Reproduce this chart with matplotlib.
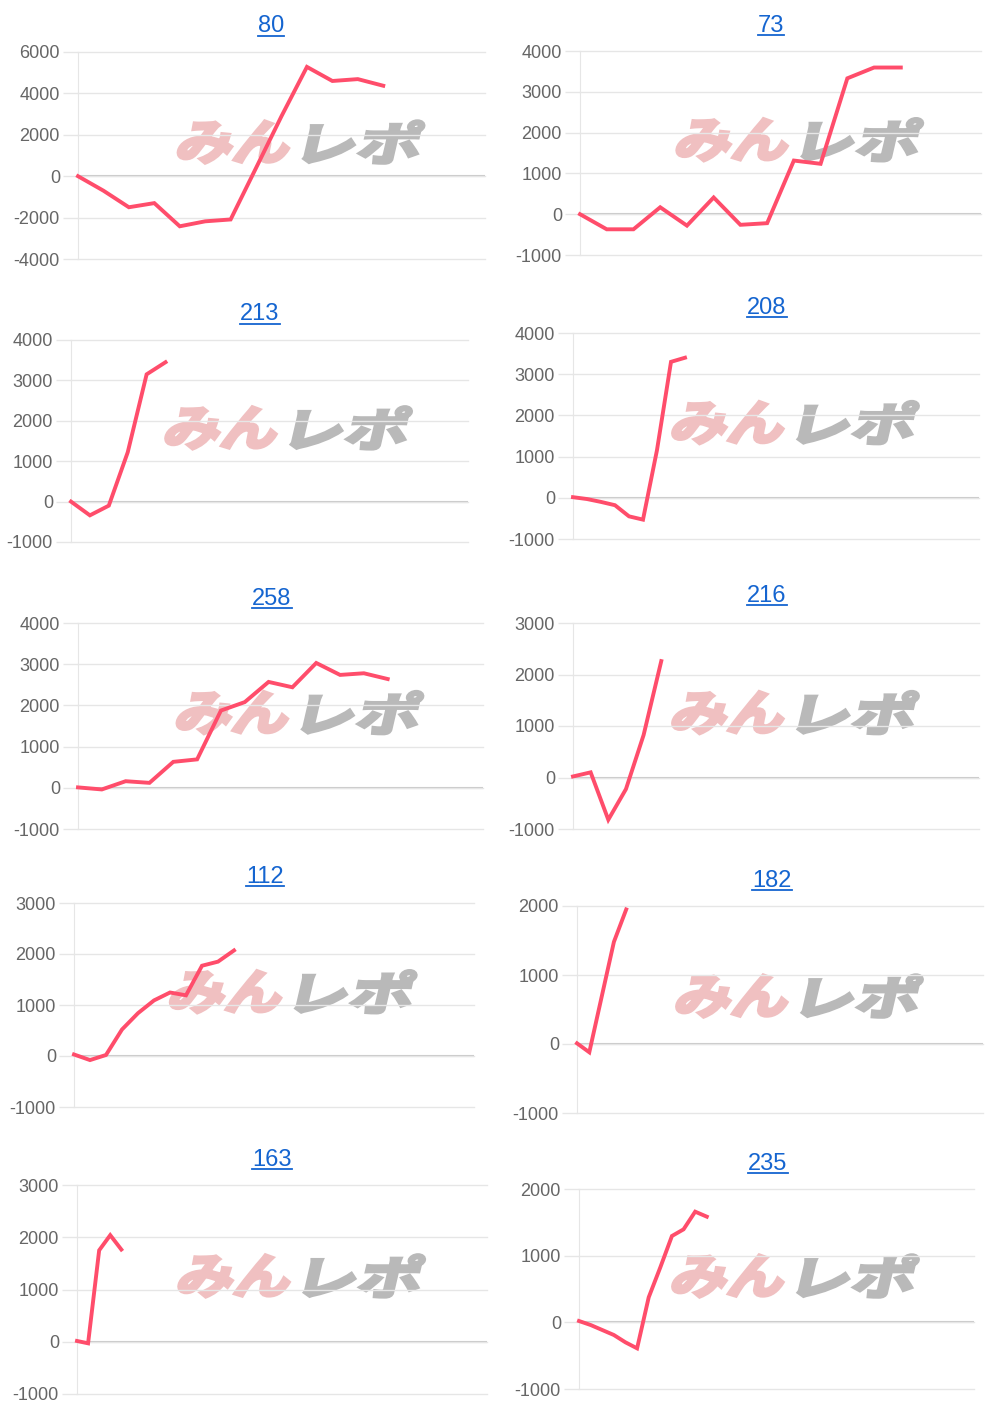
import matplotlib
matplotlib.use('Agg')
import matplotlib.pyplot as plt
from matplotlib.textpath import TextPath
from matplotlib.patches import PathPatch
from matplotlib.font_manager import FontProperties
from matplotlib.transforms import Affine2D, IdentityTransform
from matplotlib.lines import Line2D

W, H = 1000, 1415

# chart titles (machine numbers)
titles = ['80', '73', '213', '208', '258', '216', '112', '182', '163', '235']

# cumulative balance per chart
vals_80 = [0, -700, -1500, -1300, -2420, -2180, -2090, 400, 2900, 5280, 4600, 4690, 4370]
vals_73 = [0, -370, -370, 170, -280, 410, -260, -220, 1315, 1235, 3330, 3595, 3595]
vals_213 = [0, -340, -100, 1220, 3150, 3450]
vals_208 = [15, -30, -100, -180, -450, -530, 1160, 3300, 3400]
vals_258 = [10, -40, 160, 120, 630, 690, 1875, 2080, 2570, 2440, 3030, 2740, 2780, 2640]
vals_216 = [20, 100, -820, -225, 825, 2260]
vals_112 = [30, -80, 20, 520, 840, 1090, 1245, 1190, 1770, 1850, 2070]
vals_182 = [10, -120, 680, 1480, 1950]
vals_163 = [15, -30, 1750, 2040, 1765]
vals_235 = [20, -40, -115, -190, -300, -390, 375, 825, 1295, 1395, 1660, 1585]

series = [vals_80, vals_73, vals_213, vals_208, vals_258,
          vals_216, vals_112, vals_182, vals_163, vals_235]

# number of x intervals on each chart's category axis
n_slots = [16, 15, 21, 29, 17, 23, 25, 33, 37, 34]

# y axis (min, max, step)
y_ranges = [(-4000, 6000, 2000), (-1000, 4000, 1000), (-1000, 4000, 1000),
            (-1000, 4000, 1000), (-1000, 4000, 1000), (-1000, 3000, 1000),
            (-1000, 3000, 1000), (-1000, 2000, 1000), (-1000, 3000, 1000),
            (-1000, 2000, 1000)]

# layout in pixels: axes (left, right, top, bottom) and title centre
boxes = [(78, 485, 52, 259), (580, 981, 51, 255),
         (71, 468, 340, 542), (573, 979, 333, 539),
         (78, 483, 623, 829), (573, 979, 623, 829),
         (74, 474, 903, 1107), (577, 983, 906, 1113),
         (77, 487, 1185, 1394), (579, 974, 1189, 1389)]
title_pos = [(271, 24), (771, 23), (260, 312), (767, 305), (272, 596),
             (767, 594), (265, 875), (772, 878), (272, 1157), (768, 1161)]

LINE = '#ff4d6b'
GRID = '#e6e6e6'
ZERO = '#c8c8c8'
BLUE = '#1565d0'

plt.rcParams['font.family'] = ['Liberation Sans', 'DejaVu Sans']
plt.rcParams['axes.unicode_minus'] = False

fig = plt.figure(figsize=(W / 100, H / 100), dpi=100)
fig.patch.set_facecolor('white')

jp = FontProperties(family='Noto Sans CJK JP', weight='bold')


def mark_piece(text, x0, y0, w, h, color):
    # skewed text path in pixel coords (y0 = bottom, display coords)
    p = TextPath((0, 0), text, size=60, prop=jp)
    ext = p.get_extents()
    lean = h * 0.2309
    tr = (Affine2D().translate(-ext.x0, -ext.y0)
          .scale((w - lean) / ext.width, h / ext.height)
          .skew_deg(13, 0)
          .translate(x0, y0))
    patch = PathPatch(tr.transform_path(p), facecolor=color, edgecolor=color,
                      lw=2.5, transform=IdentityTransform(), zorder=-1)
    fig.add_artist(patch)


def watermark(l, r, t, b):
    cx = l + 0.545 * (r - l)
    cy = t + 0.435 * (b - t)
    left = cx - 124
    bottom = H - (cy + 21)
    mark_piece('みん', left, bottom, 119, 42, '#f0c0c1')
    mark_piece('レポ', left + 127, bottom, 122, 42, '#b9b9b9')


for i in range(10):
    l, r, t, b = boxes[i]
    ax = fig.add_axes([l / W, 1 - b / H, (r - l) / W, (b - t) / H])
    ax.set_facecolor('none')
    lo, hi, step = y_ranges[i]
    vals = series[i]
    ax.plot(range(len(vals)), vals, color=LINE, lw=2.8,
            solid_joinstyle='miter', zorder=5, clip_on=False)
    ax.set_xlim(0, n_slots[i])
    ax.set_ylim(lo, hi)
    ax.set_yticks(range(lo, hi + 1, step))
    ax.set_xticks([])
    ax.grid(axis='y', color=GRID, lw=1, clip_on=False)
    ax.axhline(0, color=ZERO, lw=1.5, zorder=1)
    for s in ['top', 'right', 'bottom']:
        ax.spines[s].set_visible(False)
    ax.spines['left'].set_color(GRID)
    ax.tick_params(axis='y', length=11, width=1, color=GRID,
                   labelcolor='#666666', labelsize=13, pad=2)
    watermark(l, r, t, b)

    tx, ty = title_pos[i]
    fig.text(tx / W, 1 - (ty + 8.5) / H, titles[i], ha='center',
             va='baseline', fontsize=17, color=BLUE)

# underline the titles like links
fig.canvas.draw()
renderer = fig.canvas.get_renderer()
for txt in list(fig.texts):
    bb = txt.get_window_extent(renderer)
    yb = txt.get_position()[1] * H - 3
    fig.add_artist(Line2D([bb.x0 / W, bb.x1 / W], [yb / H, yb / H],
                          color=BLUE, lw=1.3, transform=fig.transFigure))

fig.savefig('out.png', dpi=100, facecolor='white')
